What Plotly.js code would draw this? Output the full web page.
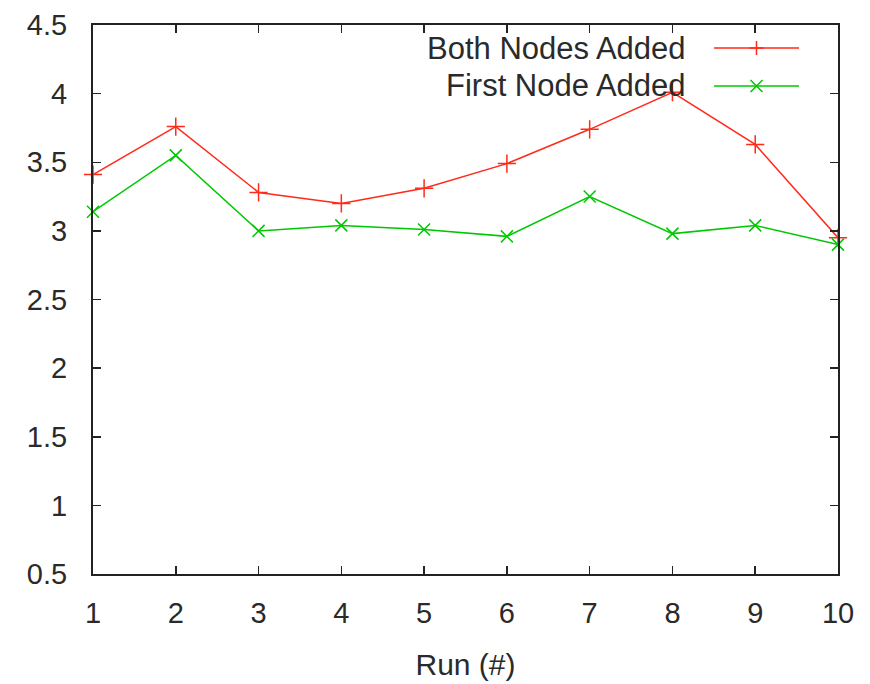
<!DOCTYPE html>
<html>
<head>
<meta charset="utf-8">
<script src="https://cdn.plot.ly/plotly-3.0.1.min.js"></script>
<style>html,body{margin:0;padding:0;background:#fff;}#chart{width:870px;height:684px;}</style>
</head>
<body>
<div id="chart"></div>
<script>
const runs = [1, 2, 3, 4, 5, 6, 7, 8, 9, 10];
const bothNodesAdded = [3.41, 3.76, 3.28, 3.20, 3.31, 3.49, 3.74, 4.01, 3.63, 2.95];
const firstNodeAdded = [3.14, 3.55, 3.00, 3.04, 3.01, 2.96, 3.25, 2.98, 3.04, 2.90];
const seriesNames = ["Both Nodes Added", "First Node Added"];
const xTitle = "Run (#)";

const RED = "#ff2a1a";
const GREEN = "#00c800";
const FONT = "Liberation Sans, Arial, sans-serif";
const TXT = "#2a2a2a";

const traces = [
  {x: runs, y: bothNodesAdded, name: seriesNames[0], type: "scatter", mode: "lines+markers",
   line: {color: RED, width: 1.5}, cliponaxis: false,
   marker: {symbol: "cross-thin-open", size: 13, color: RED, line: {color: RED, width: 1.5}}},
  {x: runs, y: firstNodeAdded, name: seriesNames[1], type: "scatter", mode: "lines+markers",
   line: {color: GREEN, width: 1.5}, cliponaxis: false,
   marker: {symbol: "x-thin-open", size: 12, color: GREEN, line: {color: GREEN, width: 1.5}}}
];

// legend (gnuplot style: text on the left, sample on the right)
const legY = [0.958, 0.889];
const legColors = [RED, GREEN];
const legPaths = ["M-7,0H7M0,-7V7", "M-6,-6L6,6M-6,6L6,-6"];
const annotations = seriesNames.map((n, i) => ({
  text: n, xref: "paper", yref: "paper", x: 0.7987, y: legY[i],
  xanchor: "right", yanchor: "middle", showarrow: false,
  font: {family: FONT, size: 31, color: TXT}
}));
const shapes = [];
seriesNames.forEach((n, i) => {
  shapes.push({type: "line", xref: "paper", yref: "paper", x0: 0.8336, x1: 0.9477,
    y0: legY[i], y1: legY[i], line: {color: legColors[i], width: 1.5}});
  shapes.push({type: "path", xref: "paper", yref: "paper", xsizemode: "pixel", ysizemode: "pixel",
    xanchor: 0.8906, yanchor: legY[i], path: legPaths[i], line: {color: legColors[i], width: 1.5}});
});

const layout = {
  width: 870, height: 684,
  margin: {l: 93, r: 32, t: 25, b: 110},
  paper_bgcolor: "#fff", plot_bgcolor: "#fff",
  showlegend: false,
  font: {family: FONT, size: 29, color: TXT},
  xaxis: {
    range: [1, 10], tickmode: "array", tickvals: runs, ticktext: runs.map(String),
    ticks: "inside", ticklen: 8, tickwidth: 1.5, tickcolor: "#222",
    showline: true, linecolor: "#222", linewidth: 2, mirror: "ticks",
    showgrid: false, zeroline: false, ticklabelstandoff: 12,
    tickfont: {family: FONT, size: 29, color: TXT},
    title: {text: xTitle, font: {family: FONT, size: 30, color: TXT}, standoff: 26}
  },
  yaxis: {
    range: [0.5, 4.5], dtick: 0.5, tick0: 0.5,
    ticks: "inside", ticklen: 8, tickwidth: 1.5, tickcolor: "#222",
    showline: true, linecolor: "#222", linewidth: 2, mirror: "ticks",
    showgrid: false, zeroline: false, ticklabelstandoff: 18,
    tickfont: {family: FONT, size: 29, color: TXT}
  },
  annotations: annotations,
  shapes: shapes
};

Plotly.newPlot("chart", traces, layout, {displayModeBar: false, staticPlot: true});
</script>
</body>
</html>
